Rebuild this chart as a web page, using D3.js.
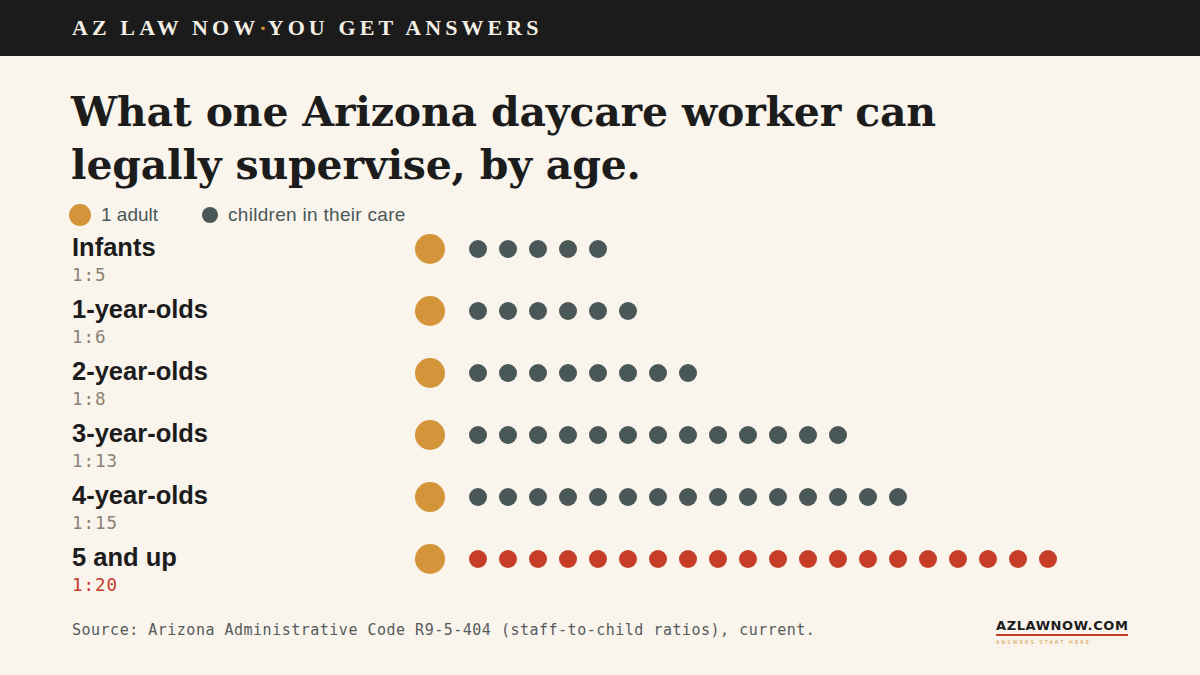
<!DOCTYPE html>
<html>
<head>
<meta charset="utf-8">
<script src="https://d3js.org/d3.v7.min.js"></script>
<style>
  body { margin: 0; background: #f9f4ec; }
  svg { display: block; }
</style>
</head>
<body>
<svg id="chart" width="1200" height="675"></svg>
<script>
// data
const ages = ["Infants", "1-year-olds", "2-year-olds", "3-year-olds", "4-year-olds", "5 and up"];
const children = [5, 6, 8, 13, 15, 20];
const ratios = ["1:5", "1:6", "1:8", "1:13", "1:15", "1:20"];

const svg = d3.select("svg#chart");
const width = +svg.attr("width");
const height = +svg.attr("height");

const orange = "#d4953a";
const slate = "#4a5757";
const red = "#c63d28";

svg.append("rect").attr("width", width).attr("height", height).attr("fill", "#f9f4ec");

// header bar
svg.append("rect").attr("width", width).attr("height", 56).attr("fill", "#1b1b1b");
const head = svg.append("text")
    .attr("x", 72).attr("y", 35)
    .style("font-family", "'Liberation Serif', serif")
    .style("font-weight", "bold")
    .style("font-size", "22px")
    .style("letter-spacing", "4.1px")
    .attr("fill", "#f4efe4");
head.append("tspan").text("AZ LAW NOW");
head.append("tspan").attr("fill", orange).style("letter-spacing", "1px").text("·");
head.append("tspan").text("YOU GET ANSWERS");

// title
const title = ["What one Arizona daycare worker can", "legally supervise, by age."];
svg.selectAll("text.title").data(title).join("text")
    .attr("class", "title")
    .attr("x", 71)
    .attr("y", (d, i) => 126 + i * 53)
    .style("font-family", "'DejaVu Serif', serif")
    .style("font-weight", "bold")
    .style("font-size", "41px")
    .style("letter-spacing", "-0.2px")
    .attr("fill", "#1c1c1c")
    .text(d => d);

// legend
const leg = svg.append("g").style("font-family", "'Liberation Sans', Arial, sans-serif").style("font-size", "19px");
leg.append("circle").attr("cx", 80).attr("cy", 215).attr("r", 11).attr("fill", orange);
leg.append("text").attr("x", 101).attr("y", 221).attr("fill", slate).text("1 adult");
leg.append("circle").attr("cx", 210).attr("cy", 215).attr("r", 8).attr("fill", slate);
leg.append("text").attr("x", 228).attr("y", 221).attr("fill", slate).style("letter-spacing", "0.3px").text("children in their care");

// scales
const y = d3.scalePoint().domain(ages).range([249, 559]);
const x = d3.scaleLinear().domain([0, 19]).range([478, 1048]);

const rows = svg.selectAll("g.row").data(ages).join("g")
    .attr("class", "row")
    .attr("transform", d => `translate(0,${y(d)})`);

rows.append("text")
    .attr("x", 72).attr("y", 7)
    .style("font-family", "'Liberation Sans', Arial, sans-serif")
    .style("font-weight", "bold")
    .style("font-size", "25.5px")
    .attr("fill", "#1c1c1c")
    .text(d => d);

rows.append("text")
    .attr("x", 72).attr("y", 32)
    .style("font-family", "'DejaVu Sans Mono', monospace")
    .style("font-size", "17.5px")
    .style("letter-spacing", "1px")
    .attr("fill", (d, i) => i === ages.length - 1 ? red : "#8b8272")
    .text((d, i) => ratios[i]);

rows.append("circle")
    .attr("cx", 430).attr("cy", 0).attr("r", 15)
    .attr("fill", orange);

rows.each(function(d, i) {
    d3.select(this).selectAll("circle.kid").data(d3.range(children[i])).join("circle")
        .attr("class", "kid")
        .attr("cx", k => x(k))
        .attr("cy", 0)
        .attr("r", 9)
        .attr("fill", i === ages.length - 1 ? red : slate);
});

// source
svg.append("text")
    .attr("x", 72).attr("y", 635)
    .style("font-family", "'DejaVu Sans Mono', monospace")
    .style("font-size", "15px")
    .style("letter-spacing", "0.5px")
    .attr("fill", "#555b5b")
    .text("Source: Arizona Administrative Code R9-5-404 (staff-to-child ratios), current.");

// logo
svg.append("text")
    .attr("x", 996).attr("y", 630)
    .style("font-family", "'DejaVu Sans', sans-serif")
    .style("font-weight", "bold")
    .style("font-size", "13px")
    .style("letter-spacing", "0.6px")
    .attr("fill", "#1c1c1c")
    .text("AZLAWNOW.COM");
svg.append("rect").attr("x", 996).attr("y", 634).attr("width", 132).attr("height", 2).attr("fill", red);
svg.append("text")
    .attr("x", 996).attr("y", 644)
    .style("font-family", "'DejaVu Sans', sans-serif")
    .style("font-size", "5px")
    .style("letter-spacing", "2.1px")
    .attr("fill", orange)
    .text("ANSWERS START HERE.");
</script>
</body>
</html>
